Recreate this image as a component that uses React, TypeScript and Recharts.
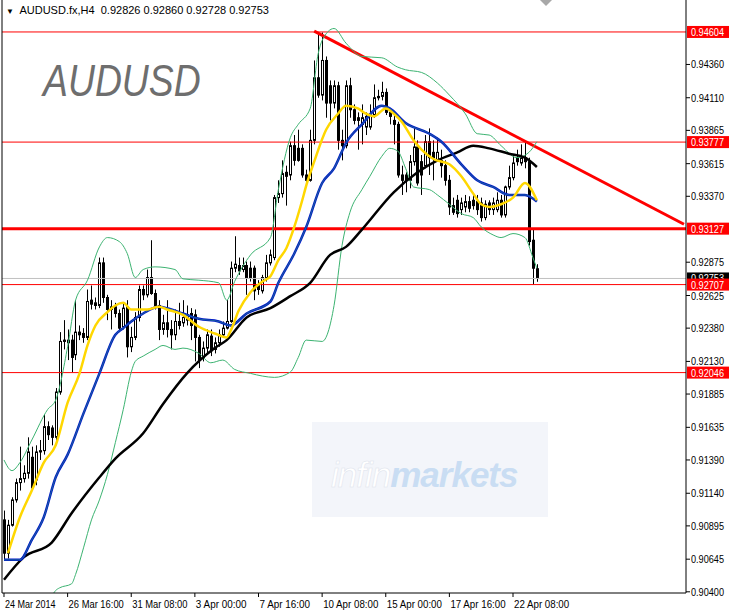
import React from 'react';
import { ComposedChart, Bar, Line, XAxis, YAxis, ReferenceLine } from 'recharts';

const FONT = "'Liberation Sans', Arial, sans-serif";

// AUDUSD H4 candles, 24 Mar 2014 .. 23 Apr 2014
const opens = [
  0.9094, 0.9069, 0.9090, 0.9109, 0.9122, 0.9125, 0.9129, 0.9141, 0.9124, 0.9145,
  0.9146, 0.9164, 0.9163, 0.9156, 0.9190, 0.9228, 0.9227, 0.9229, 0.9218, 0.9235,
  0.9234, 0.9231, 0.9259, 0.9255, 0.9255, 0.9287, 0.9261, 0.9252, 0.9254, 0.9249,
  0.9239, 0.9254, 0.9224, 0.9231, 0.9246, 0.9267, 0.9263, 0.9276, 0.9264, 0.9255,
  0.9237, 0.9242, 0.9237, 0.9233, 0.9243, 0.9242, 0.9244, 0.9249, 0.9248, 0.9231,
  0.9216, 0.9223, 0.9232, 0.9222, 0.9227, 0.9233, 0.9238, 0.9243, 0.9283, 0.9285,
  0.9282, 0.9285, 0.9283, 0.9283, 0.9270, 0.9266, 0.9276, 0.9287, 0.9291, 0.9336,
  0.9339, 0.9355, 0.9353, 0.9375, 0.9373, 0.9373, 0.9353, 0.9349, 0.9379, 0.9426,
  0.9413, 0.9439, 0.9420, 0.9407, 0.9420, 0.9379, 0.9375, 0.9420, 0.9402, 0.9396,
  0.9391, 0.9389, 0.9389, 0.9398, 0.9411, 0.9412, 0.9415, 0.9400, 0.9394, 0.9391,
  0.9353, 0.9353, 0.9349, 0.9363, 0.9374, 0.9363, 0.9360, 0.9378, 0.9370, 0.9364,
  0.9364, 0.9360, 0.9349, 0.9330, 0.9334, 0.9327, 0.9329, 0.9333, 0.9334, 0.9333,
  0.9332, 0.9321, 0.9332, 0.9327, 0.9327, 0.9334, 0.9323, 0.9344, 0.9351, 0.9366,
  0.9362, 0.9366, 0.9363, 0.9304, 0.92826,
];
const highs = [
  0.9101, 0.9094, 0.9111, 0.9125, 0.9149, 0.9135, 0.9156, 0.9149, 0.9150, 0.9154,
  0.9173, 0.9168, 0.9165, 0.9193, 0.9235, 0.9244, 0.9237, 0.9233, 0.9259, 0.9240,
  0.9238, 0.9267, 0.9270, 0.9261, 0.9291, 0.9291, 0.9263, 0.9259, 0.9257, 0.9252,
  0.9257, 0.9259, 0.9239, 0.9250, 0.9270, 0.9270, 0.9282, 0.9304, 0.9267, 0.9259,
  0.9248, 0.9259, 0.9244, 0.9252, 0.9257, 0.9259, 0.9255, 0.9253, 0.9252, 0.9233,
  0.9228, 0.9237, 0.9237, 0.9231, 0.9237, 0.9243, 0.9259, 0.9288, 0.9307, 0.9291,
  0.9291, 0.9288, 0.9288, 0.9285, 0.9274, 0.9278, 0.9293, 0.9297, 0.9338, 0.9349,
  0.9364, 0.9360, 0.9378, 0.9383, 0.9387, 0.9376, 0.9357, 0.9387, 0.9439, 0.94604,
  0.9460, 0.9442, 0.9424, 0.9424, 0.9423, 0.9387, 0.9424, 0.9426, 0.9406, 0.9400,
  0.9406, 0.9400, 0.9406, 0.9421, 0.9417, 0.9423, 0.9418, 0.9403, 0.9398, 0.9393,
  0.9360, 0.9355, 0.9368, 0.9388, 0.9379, 0.9368, 0.9383, 0.9388, 0.9379, 0.9381,
  0.9372, 0.9364, 0.9353, 0.9336, 0.9338, 0.9336, 0.9338, 0.9337, 0.9338, 0.9338,
  0.9336, 0.9334, 0.9334, 0.9336, 0.9340, 0.9338, 0.9345, 0.9360, 0.9368, 0.9372,
  0.9376, 0.93777, 0.9366, 0.9312, 0.92860,
];
const lows = [
  0.9064, 0.9065, 0.9089, 0.9107, 0.9116, 0.9122, 0.9125, 0.9116, 0.9120, 0.9139,
  0.9143, 0.9154, 0.9150, 0.9153, 0.9188, 0.9222, 0.9214, 0.9205, 0.9214, 0.9229,
  0.9227, 0.9229, 0.9252, 0.9252, 0.9253, 0.9257, 0.9244, 0.9237, 0.9246, 0.9235,
  0.9237, 0.9216, 0.9220, 0.9229, 0.9243, 0.9259, 0.9261, 0.9263, 0.9252, 0.9229,
  0.9233, 0.9231, 0.9222, 0.9229, 0.9237, 0.9239, 0.9240, 0.9229, 0.9213, 0.9208,
  0.9213, 0.9218, 0.9217, 0.9219, 0.9224, 0.9231, 0.9237, 0.9242, 0.9280, 0.9278,
  0.9280, 0.9263, 0.9273, 0.9259, 0.9263, 0.9264, 0.9273, 0.9285, 0.9289, 0.9332,
  0.9336, 0.9330, 0.9349, 0.9360, 0.9363, 0.9351, 0.9345, 0.9348, 0.9376, 0.9411,
  0.9409, 0.9396, 0.9394, 0.9403, 0.9372, 0.9364, 0.9373, 0.9396, 0.9391, 0.9372,
  0.9376, 0.9383, 0.9387, 0.9396, 0.9409, 0.9409, 0.9398, 0.9391, 0.9376, 0.9351,
  0.9338, 0.9340, 0.9343, 0.9360, 0.9345, 0.9338, 0.9358, 0.9353, 0.9349, 0.9363,
  0.9351, 0.9345, 0.9323, 0.9323, 0.9321, 0.9323, 0.9325, 0.9325, 0.9327, 0.9323,
  0.9318, 0.9319, 0.9323, 0.9323, 0.9325, 0.9321, 0.9321, 0.9342, 0.9349, 0.9360,
  0.9360, 0.9358, 0.9300, 0.92707, 0.92728,
];
const closes = [
  0.9069, 0.9090, 0.9109, 0.9122, 0.9125, 0.9129, 0.9145, 0.9118, 0.9145, 0.9146,
  0.9164, 0.9158, 0.9156, 0.9190, 0.9228, 0.9229, 0.9229, 0.9216, 0.9235, 0.9233,
  0.9231, 0.9258, 0.9256, 0.9257, 0.9287, 0.9261, 0.9252, 0.9254, 0.9249, 0.9238,
  0.9253, 0.9224, 0.9231, 0.9246, 0.9267, 0.9263, 0.9276, 0.9264, 0.9255, 0.9237,
  0.9242, 0.9237, 0.9233, 0.9243, 0.9240, 0.9246, 0.9248, 0.9240, 0.9231, 0.9214,
  0.9223, 0.9233, 0.9221, 0.9227, 0.9233, 0.9238, 0.9243, 0.9283, 0.9286, 0.9281,
  0.9285, 0.9276, 0.9276, 0.9266, 0.9267, 0.9276, 0.9287, 0.9293, 0.9336, 0.9339,
  0.9354, 0.9352, 0.9375, 0.9364, 0.9364, 0.9353, 0.9349, 0.9379, 0.9426, 0.9413,
  0.9439, 0.9407, 0.9407, 0.9420, 0.9379, 0.9375, 0.9420, 0.9402, 0.9394, 0.9394,
  0.9396, 0.9397, 0.9398, 0.9411, 0.9412, 0.9415, 0.9400, 0.9397, 0.9391, 0.9353,
  0.9349, 0.9349, 0.9363, 0.9374, 0.9347, 0.9353, 0.9378, 0.9366, 0.9366, 0.9370,
  0.9360, 0.9349, 0.9329, 0.9325, 0.9324, 0.9332, 0.9333, 0.9328, 0.9330, 0.9327,
  0.9321, 0.9331, 0.9327, 0.9332, 0.9334, 0.9323, 0.9344, 0.9351, 0.9362, 0.9363,
  0.9366, 0.9363, 0.9303, 0.9283, 0.92753,
];

// indicator readings: [bar index, price]
const ma10: [number, number][] = [
  [1, 0.9069], [4, 0.9096], [7, 0.9116], [10, 0.9137], [13, 0.9150], [16, 0.9182], [19, 0.9204],
  [21, 0.9225], [23, 0.9240], [26, 0.9250], [28, 0.9255], [30, 0.9257], [32, 0.9252], [36, 0.9252],
  [39, 0.9254], [41, 0.9252], [45, 0.9248], [49, 0.9239], [53, 0.9234], [56, 0.9231], [57, 0.9236],
  [59, 0.9251], [62, 0.9265], [65, 0.9273], [67, 0.9277], [69, 0.9289], [71, 0.9298], [73, 0.9314],
  [75, 0.9334], [76, 0.9345], [78, 0.9363], [81, 0.9387], [84, 0.9399], [86, 0.9405], [89, 0.9403],
  [91, 0.9399], [93, 0.9397], [96, 0.9403], [98, 0.9399], [100, 0.9393], [103, 0.9379], [105, 0.9372],
  [108, 0.9365], [112, 0.9361], [115, 0.9352], [118, 0.9339], [120, 0.9331], [122, 0.9329],
  [125, 0.9331], [128, 0.9336], [131, 0.9347], [134, 0.9334],
];
const ma20: [number, number][] = [
  [0, 0.9064], [4, 0.9064], [7, 0.9079], [10, 0.9096], [13, 0.9126], [16, 0.9143], [20, 0.9174],
  [24, 0.9204], [28, 0.9233], [30, 0.9238], [32, 0.9243], [35, 0.9249], [39, 0.9254], [41, 0.9253],
  [45, 0.9249], [49, 0.9245], [54, 0.9243], [57, 0.9240], [61, 0.9249], [67, 0.9258], [69, 0.9272],
  [73, 0.9294], [76, 0.9314], [80, 0.9347], [83, 0.9358], [86, 0.9377], [90, 0.9391], [95, 0.9405],
  [97, 0.9403], [101, 0.9392], [107, 0.9384], [110, 0.9378], [115, 0.9361], [119, 0.9349],
  [123, 0.9344], [127, 0.9338], [131, 0.9338], [134, 0.9333],
];
const ma50: [number, number][] = [
  [0, 0.9049], [5, 0.9066], [12, 0.9077], [17, 0.9099], [24, 0.9126], [28, 0.9140], [35, 0.9159],
  [40, 0.9181], [46, 0.9204], [53, 0.9223], [56, 0.9229], [61, 0.9246], [67, 0.9253], [72, 0.9262],
  [77, 0.9272], [82, 0.9293], [86, 0.9299], [90, 0.9312], [98, 0.9340], [104, 0.9355], [109, 0.9364],
  [114, 0.9370], [118, 0.9375], [122, 0.9373], [127, 0.9369], [131, 0.9366], [134, 0.9359],
];
const bandUpper: [number, number][] = [
  [0, 0.9139], [2, 0.9131], [4, 0.9137], [7, 0.9154], [11, 0.9177], [13, 0.9184], [16, 0.9224],
  [18, 0.9259], [21, 0.9274], [24, 0.9299], [26, 0.9306], [29, 0.9303], [31, 0.9294], [33, 0.9276],
  [35, 0.9282], [38, 0.9284], [43, 0.9282], [45, 0.9275], [49, 0.9274], [54, 0.9272], [56, 0.9259],
  [58, 0.9273], [62, 0.9293], [67, 0.9306], [69, 0.9342], [72, 0.9381], [74, 0.9391], [77, 0.9403],
  [79, 0.9444], [80, 0.9454], [83, 0.9463], [86, 0.9452], [90, 0.9442], [95, 0.9441], [99, 0.9434],
  [101, 0.9432], [105, 0.9430], [109, 0.9422], [112, 0.9413], [116, 0.9399], [119, 0.9384],
  [122, 0.9383], [125, 0.9375], [129, 0.9366], [132, 0.9370], [134, 0.9378],
];
const bandLower: [number, number][] = [
  [11, 0.9030], [13, 0.9041], [14, 0.9043], [17, 0.9046], [18, 0.9053], [20, 0.9073], [22, 0.9094],
  [24, 0.9109], [26, 0.9128], [28, 0.9152], [30, 0.9177], [32, 0.9205], [33, 0.9213], [35, 0.9217],
  [38, 0.9222], [40, 0.9225], [43, 0.9222], [45, 0.9223], [49, 0.9219], [52, 0.9212], [55, 0.9214],
  [58, 0.9207], [62, 0.9204], [65, 0.9202], [68, 0.9201], [72, 0.9205], [74, 0.9216], [76, 0.9229],
  [80, 0.9228], [83, 0.9255], [85, 0.9300], [87, 0.9325], [90, 0.9342], [92, 0.9352], [95, 0.9367],
  [97, 0.9373], [99, 0.9371], [101, 0.9358], [103, 0.9344], [107, 0.9342], [109, 0.9338],
  [112, 0.9331], [115, 0.9324], [118, 0.9321], [120, 0.9314], [123, 0.9308], [125, 0.9306],
  [128, 0.9309], [131, 0.9306], [133, 0.9291], [134, 0.9283],
];

const timeLabels: [number, string][] = [
  [0, '24 Mar 2014'], [16, '26 Mar 16:00'], [32, '31 Mar 08:00'], [48, '3 Apr 00:00'],
  [64, '7 Apr 16:00'], [80, '10 Apr 08:00'], [96, '15 Apr 00:00'], [112, '17 Apr 16:00'],
  [128, '22 Apr 08:00'],
];
const priceTicks = [
  0.9436, 0.9411, 0.93865, 0.93615, 0.9337, 0.92875, 0.92625, 0.9238, 0.9213,
  0.91885, 0.91635, 0.9139, 0.9114, 0.90895, 0.90645, 0.904,
];
const levels = [0.94604, 0.93777, 0.93127, 0.92707, 0.92046];
const bid = 0.92753;
const trend: [number, number][] = [[78, 0.9461], [171, 0.9316]];

const SLOTS = 172; // visible bars + empty shift on the right

const data = Array.from({ length: SLOTS }, (_, i) => {
  const row: any = { i };
  if (i < closes.length) {
    row.o = opens[i];
    row.h = highs[i];
    row.l = lows[i];
    row.c = closes[i];
    row.range = [lows[i], highs[i]];
  }
  return row;
});
const put = (key: string, pts: [number, number][]) => pts.forEach(([i, v]) => (data[i][key] = v));
put('ma10', ma10);
put('ma20', ma20);
put('ma50', ma50);
put('up', bandUpper);
put('dn', bandLower);

const labelFor: Record<number, string> = Object.fromEntries(timeLabels);

const Candle = (props: any) => {
  const { x, y, width, height, payload } = props;
  if (!payload || payload.o == null) return null;
  const top = Math.min(y, y + height);
  const bottom = Math.max(y, y + height);
  const span = payload.h - payload.l;
  const toY = (v: number) => (span > 0 ? top + ((payload.h - v) / span) * (bottom - top) : top);
  const cx = Math.round(x + width / 2);
  const yo = toY(payload.o);
  const yc = toY(payload.c);
  const bull = payload.c >= payload.o;
  return (
    <g>
      <line x1={cx + 0.5} x2={cx + 0.5} y1={top} y2={bottom} stroke="#000" />
      <rect
        x={cx - 0.5}
        y={Math.min(yo, yc)}
        width={2}
        height={Math.max(Math.abs(yc - yo), 1)}
        fill={bull ? '#fff' : '#000'}
        stroke="#000"
      />
    </g>
  );
};

const TimeTick = (props: any) => {
  const { x, y, payload } = props;
  const label = labelFor[payload.value] || '';
  return (
    <text
      x={x + 1}
      y={y}
      dy={11}
      fontSize={11}
      fontFamily={FONT}
      fill="#000"
      textLength={label.length * 4.6}
      lengthAdjust="spacingAndGlyphs"
    >
      {label}
    </text>
  );
};

const PriceTick = (props: any) => {
  const { x, y, payload } = props;
  return (
    <text x={x} y={y} dy={4} fontSize={10} fontFamily={FONT} fill="#000" textLength={33} lengthAdjust="spacingAndGlyphs">
      {payload.value.toFixed(5)}
    </text>
  );
};

const tag = (text: string, bg: string) => (props: any) => {
  const vb = props.viewBox;
  const x = vb.x + vb.width + 1;
  return (
    <g>
      <rect x={x} y={vb.y - 6} width={42} height={12} fill={bg} />
      <text
        x={x + 4}
        y={vb.y + 4}
        fontSize={10}
        fontFamily={FONT}
        fill="#fff"
        textLength={33}
        lengthAdjust="spacingAndGlyphs"
      >
        {text}
      </text>
    </g>
  );
};

export default function App() {
  return (
    <div style={{ position: 'absolute', left: 0, top: 0, width: 729, height: 614, background: '#fff', overflow: 'hidden' }}>
      <div
        style={{
          position: 'absolute', left: 312, top: 422, width: 236, height: 95, background: '#F3F5FA',
        }}
      />
      <div
        style={{
          position: 'absolute', left: 331, top: 455, fontFamily: "'Liberation Sans', sans-serif",
          fontStyle: 'italic', fontSize: 35, lineHeight: '40px', letterSpacing: -1,
        }}
      >
        <span style={{ color: '#fff', WebkitTextStroke: '0.5px #DDE3EC' }}>infin</span>
        <span style={{ color: '#C9DDF3', fontWeight: 'bold' }}>markets</span>
      </div>
      <div
        style={{
          position: 'absolute', left: 43, top: 56, fontFamily: "'Liberation Sans', sans-serif",
          fontStyle: 'italic', fontSize: 45, lineHeight: '50px', color: '#6E6E6E',
          transform: 'scaleX(0.83)', transformOrigin: 'left top',
        }}
      >
        AUDUSD
      </div>
      <div
        style={{
          position: 'absolute', left: 6, top: 3, fontFamily: FONT, fontSize: 11, lineHeight: '14px',
          color: '#000', whiteSpace: 'pre',
        }}
      >
        <span style={{ fontSize: 8 }}>▼</span>
        {'  AUDUSD.fx,H4  0.92826 0.92860 0.92728 0.92753'}
      </div>
      <div
        style={{
          position: 'absolute', left: 540, top: 0, width: 0, height: 0,
          borderLeft: '6px solid transparent', borderRight: '6px solid transparent', borderTop: '6px solid #A8A8A8',
        }}
      />
      <div style={{ position: 'absolute', left: 0, top: 0 }}>
        <ComposedChart width={729} height={614} data={data} margin={{ top: 0, right: 0, bottom: 0, left: 1 }}>
          <XAxis
            dataKey="i"
            type="category"
            ticks={timeLabels.map((t) => t[0])}
            interval={0}
            height={21}
            tickSize={4}
            tickMargin={0}
            tick={<TimeTick />}
            axisLine={{ stroke: '#000' }}
            tickLine={{ stroke: '#000' }}
          />
          <YAxis
            yAxisId="frame"
            orientation="left"
            width={1}
            domain={[0, 1]}
            tick={false}
            tickLine={false}
            axisLine={{ stroke: '#000' }}
          />
          <YAxis
            orientation="right"
            width={43}
            domain={[0.90391, 0.94844]}
            allowDataOverflow
            ticks={priceTicks}
            interval={0}
            tickSize={4}
            tickMargin={1}
            tick={<PriceTick />}
            axisLine={{ stroke: '#000' }}
            tickLine={{ stroke: '#000' }}
          />
          <ReferenceLine y={bid} stroke="#C0C0C0" label={tag(bid.toFixed(5), '#000')} />
          {levels.map((v) => (
            <ReferenceLine
              key={v}
              y={v}
              stroke="#FF0000"
              strokeWidth={v === 0.93127 ? 3 : 1}
              label={tag(v.toFixed(5), '#FF0000')}
            />
          ))}
          <ReferenceLine
            segment={trend.map(([x, y]) => ({ x, y }))}
            stroke="#FF0000"
            strokeWidth={3}
          />
          <Bar dataKey="range" shape={<Candle />} isAnimationActive={false} />
          <Line dataKey="up" stroke="#3CB371" strokeWidth={1} dot={false} connectNulls type="monotone" isAnimationActive={false} />
          <Line dataKey="dn" stroke="#3CB371" strokeWidth={1} dot={false} connectNulls type="monotone" isAnimationActive={false} />
          <Line dataKey="ma50" stroke="#000" strokeWidth={2.5} dot={false} connectNulls type="monotone" isAnimationActive={false} />
          <Line dataKey="ma20" stroke="#0018C8" strokeWidth={2.5} dot={false} connectNulls type="monotone" isAnimationActive={false} />
          <Line dataKey="ma20" stroke="#3CB371" strokeWidth={1} strokeOpacity={0.5} dot={false} connectNulls type="monotone" isAnimationActive={false} />
          <Line dataKey="ma10" stroke="#FFD700" strokeWidth={2.5} dot={false} connectNulls type="monotone" isAnimationActive={false} />
        </ComposedChart>
      </div>
    </div>
  );
}
